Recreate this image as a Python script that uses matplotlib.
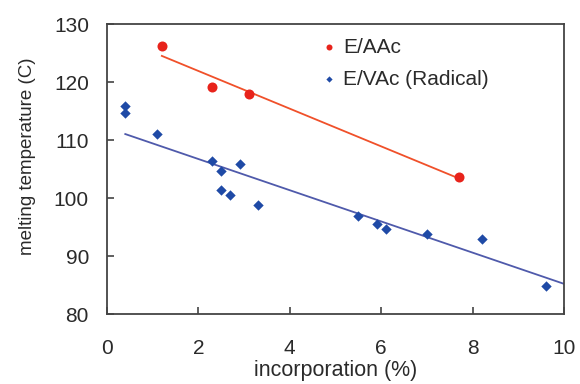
import numpy as np
import matplotlib.pyplot as plt

plt.rcParams['font.family'] = ['Liberation Sans', 'DejaVu Sans']

# E/AAc points
aac_x = [1.2, 2.3, 3.1, 7.7]
aac_y = [126.2, 119.2, 118.0, 103.6]
aac_trend = (-3.25, 128.4)      # slope, intercept

# E/VAc (radical) points
vac_x = [0.4, 0.4, 1.1, 2.3, 2.5, 2.9, 2.5, 2.7, 3.3, 5.5, 5.9, 6.1, 7.0, 8.2, 9.6]
vac_y = [115.9, 114.6, 111.0, 106.3, 104.6, 105.9, 101.4, 100.5, 98.8,
         96.9, 95.5, 94.7, 93.8, 92.9, 84.8]
vac_trend = (-2.69, 112.1)

x_ticks = [0, 2, 4, 6, 8, 10]
y_ticks = [80, 90, 100, 110, 120, 130]

fig = plt.figure(figsize=(5.8, 3.84), dpi=100)
ax = fig.add_axes([107 / 580, 1 - 314 / 384, 457 / 580, 290 / 384])

# trend lines
xa = np.array([min(aac_x), max(aac_x)])
ax.plot(xa, np.polyval(aac_trend, xa), color='#f0502a', lw=1.3, zorder=2)

xv = np.array([min(vac_x), 10])
ax.plot(xv, np.polyval(vac_trend, xv), color='#4f5aab', lw=1.3, zorder=2)

ax.scatter(aac_x, aac_y, marker='o', s=52, color='#e8231b', lw=0, zorder=3, label='E/AAc')
ax.scatter(vac_x, vac_y, marker='D', s=28, color='#1f4aa6', lw=0, zorder=3,
           label='E/VAc (Radical)')

ax.set_xlim(0, 10)
ax.set_ylim(80, 130)
ax.set_xticks(x_ticks)
ax.set_yticks(y_ticks)
ax.tick_params(direction='in', length=5, width=1.2, labelsize=15,
               colors='#444444', labelcolor='#2a2a2a')
ax.tick_params(axis='x', pad=18)
ax.tick_params(axis='y', pad=13)
for s in ax.spines.values():
    s.set_linewidth(1.3)
    s.set_color('#444444')

ax.set_xlabel('incorporation (%)', fontsize=15.5, color='#2a2a2a', labelpad=1.5)
ax.set_ylabel('melting temperature (C)', fontsize=13.5, color='#2a2a2a')
ax.yaxis.set_label_coords(-0.155, 0.545)

leg = ax.legend(loc='upper left', bbox_to_anchor=(0.43, 1.003), frameon=False,
                fontsize=15, handlelength=1.0, handletextpad=0.2, labelspacing=0.62,
                markerscale=0.6, borderaxespad=0.3)
for t in leg.get_texts():
    t.set_color('#2a2a2a')

fig.savefig('out.png', dpi=100)
